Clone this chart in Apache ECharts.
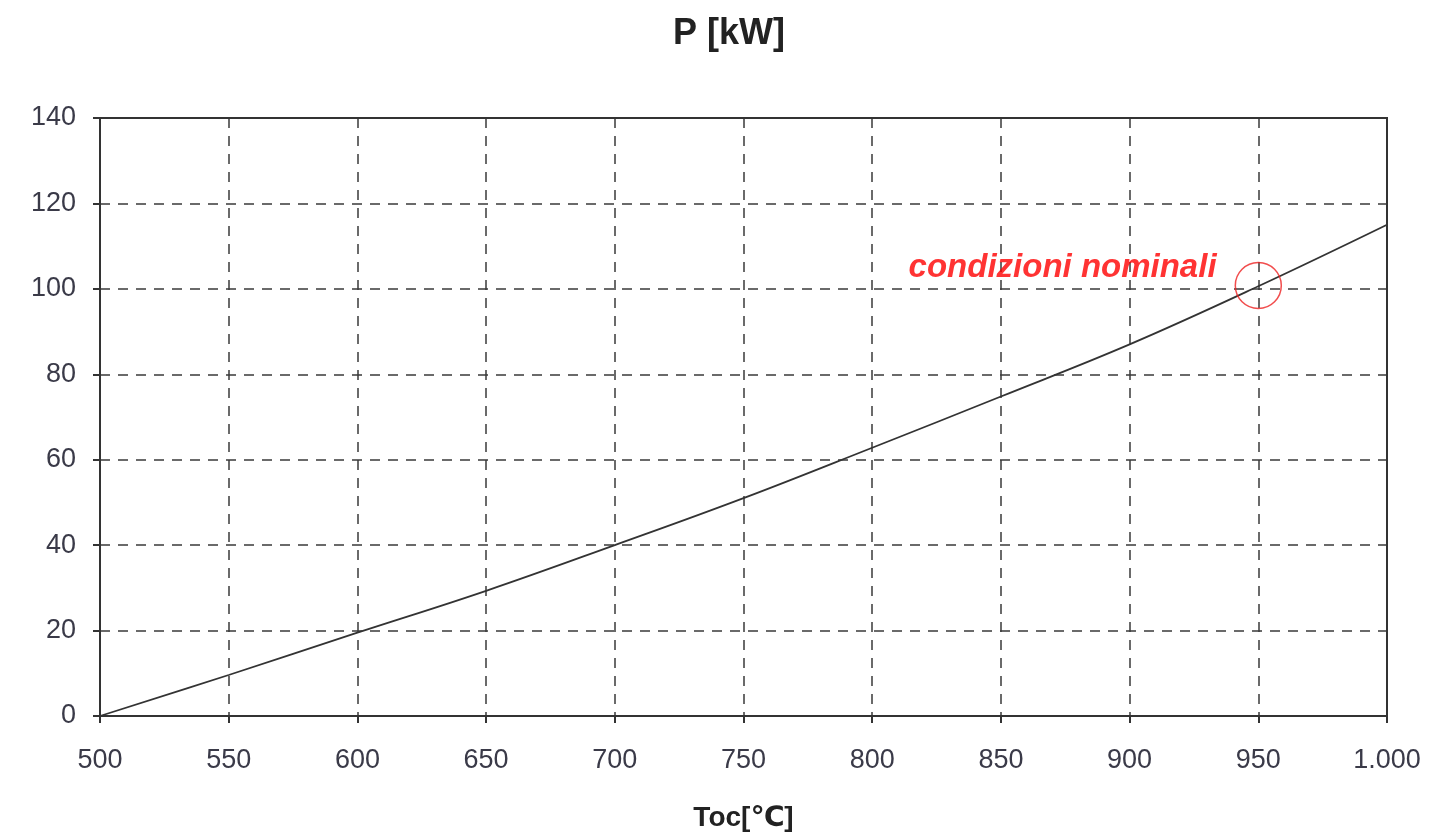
<!DOCTYPE html>
<html>
<head>
<meta charset="utf-8">
<script src="https://cdn.jsdelivr.net/npm/echarts@6/dist/echarts.min.js"></script>
<style>
html,body{margin:0;padding:0;background:#fff;}
#chart{width:1431px;height:834px;}
</style>
</head>
<body>
<div id="chart"></div>
<script>
// temperatura e potenza
var temp = [500, 550, 600, 650, 700, 750, 800, 850, 900, 950, 1000];
var potenza = [0, 9.6, 19.5, 29.3, 40, 51, 62.8, 74.8, 87, 100.6, 115];
var nominale = [950, 100.8];
var yTicks = [0, 20, 40, 60, 80, 100, 120, 140];

var dash = {color: '#3a3a3a', width: 1.5, type: [10, 8]};

var myChart = echarts.init(document.getElementById('chart'));
var option = {
	backgroundColor: '#fff',
	animation: false,
	title: {
		text: 'P [kW]',
		left: 668,
		top: 11,
		textStyle: {fontFamily: 'Liberation Sans', fontSize: 36, fontWeight: 'bold', color: '#222'}
	},
	grid: {left: 100, right: 44, top: 118, bottom: 118, outerBoundsMode: 'none', containLabel: false},
	xAxis: {
		type: 'value',
		min: 500,
		max: 1000,
		interval: 50,
		name: 'Toc[℃]',
		nameLocation: 'middle',
		nameGap: 88,
		nameTextStyle: {fontFamily: 'Liberation Sans, DejaVu Sans', fontSize: 28, fontWeight: 'bold', color: '#222'},
		axisLine: {show: true, lineStyle: {color: '#333', width: 2}},
		axisTick: {show: true, length: 7, lineStyle: {color: '#333', width: 2}},
		axisLabel: {
			margin: 31,
			fontFamily: 'Liberation Sans',
			fontSize: 27,
			color: '#3a3a48',
			formatter: function(v){ return v >= 1000 ? '1.000' : String(v); }
		},
		splitLine: {show: true, lineStyle: dash}
	},
	yAxis: {
		type: 'value',
		min: yTicks[0],
		max: yTicks[yTicks.length - 1],
		interval: 20,
		axisLine: {show: true, lineStyle: {color: '#333', width: 2}},
		axisTick: {show: true, length: 7, lineStyle: {color: '#333', width: 2}},
		axisLabel: {margin: 24, fontFamily: 'Liberation Sans', fontSize: 27, color: '#3a3a48'},
		splitLine: {show: true, lineStyle: dash}
	},
	graphic: [{
		type: 'rect',
		shape: {x: 100, y: 118, width: 1287, height: 598},
		style: {fill: 'none', stroke: '#333', lineWidth: 2},
		silent: true,
		z: 10
	}],
	series: [
		{
			name: 'P',
			type: 'line',
			data: temp.map(function(t, i){ return [t, potenza[i]]; }),
			symbol: 'none',
			smooth: 0.4,
			lineStyle: {color: '#333', width: 1.8},
			z: 5
		},
		{
			name: 'condizioni nominali',
			type: 'scatter',
			data: [nominale],
			symbol: 'circle',
			symbolSize: 46,
			itemStyle: {color: 'transparent', borderColor: '#ee2020', borderWidth: 1.5},
			label: {
				show: true,
				position: 'left',
				distance: 18,
				offset: [0, -18],
				formatter: 'condizioni nominali',
				fontFamily: 'Liberation Sans',
				fontSize: 33,
				fontWeight: 'bold',
				fontStyle: 'italic',
				color: '#ff0000'
			},
			z: 6
		}
	]
};
myChart.setOption(option);
</script>
</body>
</html>
